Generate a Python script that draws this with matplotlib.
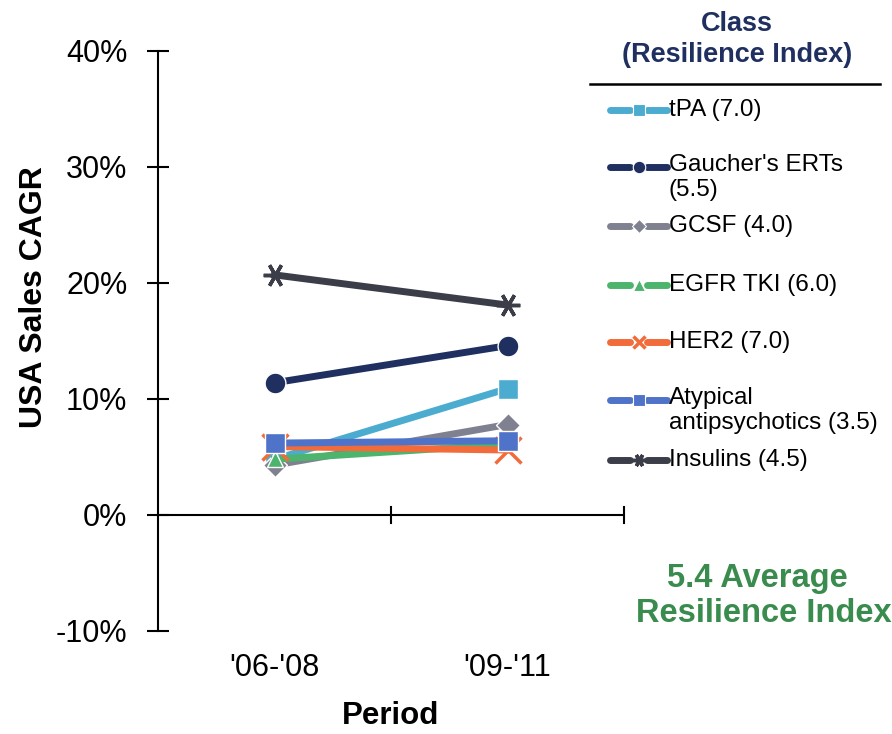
import matplotlib
matplotlib.use('Agg')
import matplotlib.pyplot as plt
from matplotlib.lines import Line2D
from matplotlib.ticker import FuncFormatter

plt.rcParams['font.family'] = ['Liberation Sans', 'DejaVu Sans']

periods = ["'06-'08", "'09-'11"]

# CAGR in % for each drug class, per period
classes = ['tPA (7.0)', "Gaucher's ERTs\n(5.5)", 'GCSF (4.0)', 'EGFR TKI (6.0)',
           'HER2 (7.0)', 'Atypical\nantipsychotics (3.5)', 'Insulins (4.5)']
tpa = [4.8, 10.9]
gaucher = [11.4, 14.6]
gcsf = [4.3, 7.8]
egfr = [4.8, 6.1]
her2 = [5.9, 5.6]
atypical = [6.2, 6.4]
insulins = [20.7, 18.1]

series = [tpa, gaucher, gcsf, egfr, her2, atypical, insulins]
colors = ['#4BACD0', '#1F3060', '#7F8090', '#4CB46C', '#F26B3A', '#4F73C9', '#3B3E48']
star = (6, 2, 90)
markers = ['s', 'o', 'D', '^', 'x', 's', star]
msizes = [14, 15, 12, 12, 19, 14, 17]


def marker_style(m, c, thin):
    if m in ('x', star):
        return dict(mfc=c, mec=c, mew=2.5)
    return dict(mfc=c, mec='white', mew=thin)


W, H = 892, 734
fig = plt.figure(figsize=(W / 100, H / 100), dpi=100)
ax = fig.add_axes([158 / W, 1 - 631 / H, (624 - 158) / W, (631 - 51) / H])

# later series sit on top of earlier ones
x = range(len(periods))
for z, (vals, c, m, ms) in enumerate(zip(series, colors, markers, msizes)):
    ax.plot(x, vals, color=c, lw=5, marker=m, ms=ms, zorder=3 + z, clip_on=False,
            **marker_style(m, c, 1))

ax.set_xlim(-0.5, 1.5)
ax.set_ylim(-10, 40)
ax.set_yticks([-10, 0, 10, 20, 30, 40])
ax.yaxis.set_major_formatter(FuncFormatter(lambda v, p: f'{v:.0f}%'))
ax.set_xticks([])
for s in ['top', 'right', 'bottom']:
    ax.spines[s].set_visible(False)
ax.spines['left'].set_linewidth(1.5)
ax.axhline(0, color='black', lw=1.5, zorder=1)
for xt in [0.5, 1.5]:
    ax.plot([xt, xt], [-0.7, 0.7], color='black', lw=1.5, clip_on=False, zorder=1)
ax.tick_params(axis='y', direction='inout', length=16, width=1.5, labelsize=22, pad=14)
for i, p in enumerate(periods):
    ax.text(i, -13.2, p, ha='center', va='center', fontsize=22)

fig.text(34 / W, 1 - 297 / H, 'USA Sales CAGR', ha='center', va='center', rotation=90,
         fontsize=23, fontweight='bold')
fig.text(391 / W, 1 - 716 / H, 'Period', ha='center', va='center', fontsize=22.5, fontweight='bold')

# legend panel on the right
navy = '#1F3060'
fig.text(737 / W, 1 - 24 / H, 'Class', ha='center', va='center', fontsize=19.5,
         fontweight='bold', color=navy)
fig.text(737 / W, 1 - 55 / H, '(Resilience Index)', ha='center', va='center', fontsize=19.5,
         fontweight='bold', color=navy)
fig.add_artist(Line2D([590 / W, 880 / W], [1 - 84 / H, 1 - 84 / H], color='black', lw=1.8))

entry_y = [110, 167, 226, 285, 342, 400, 460]
for lab, c, m, yp in zip(classes, colors, markers, entry_y):
    ly = 1 - yp / H
    for x0, x1 in [(610, 630), (647, 667)]:
        fig.add_artist(Line2D([x0 / W, x1 / W], [ly, ly], color=c, lw=5, solid_capstyle='round'))
    fig.add_artist(Line2D([638.5 / W], [ly], color=c, marker=m, ms=9 if m != 'D' else 7,
                          **marker_style(m, c, 0.8)))
    if '\n' in lab:
        fig.text(669 / W, ly + 13 / H, lab, ha='left', va='top', fontsize=17.5, linespacing=1.19)
    else:
        fig.text(669 / W, ly, lab, ha='left', va='center', fontsize=17.5)

green = '#3A8C4E'
fig.text(757 / W, 1 - 579 / H, '5.4 Average', ha='center', va='center', fontsize=23.5,
         fontweight='bold', color=green)
fig.text(764 / W, 1 - 613 / H, 'Resilience Index', ha='center', va='center', fontsize=23.5,
         fontweight='bold', color=green)

fig.savefig('out.png', dpi=100)
